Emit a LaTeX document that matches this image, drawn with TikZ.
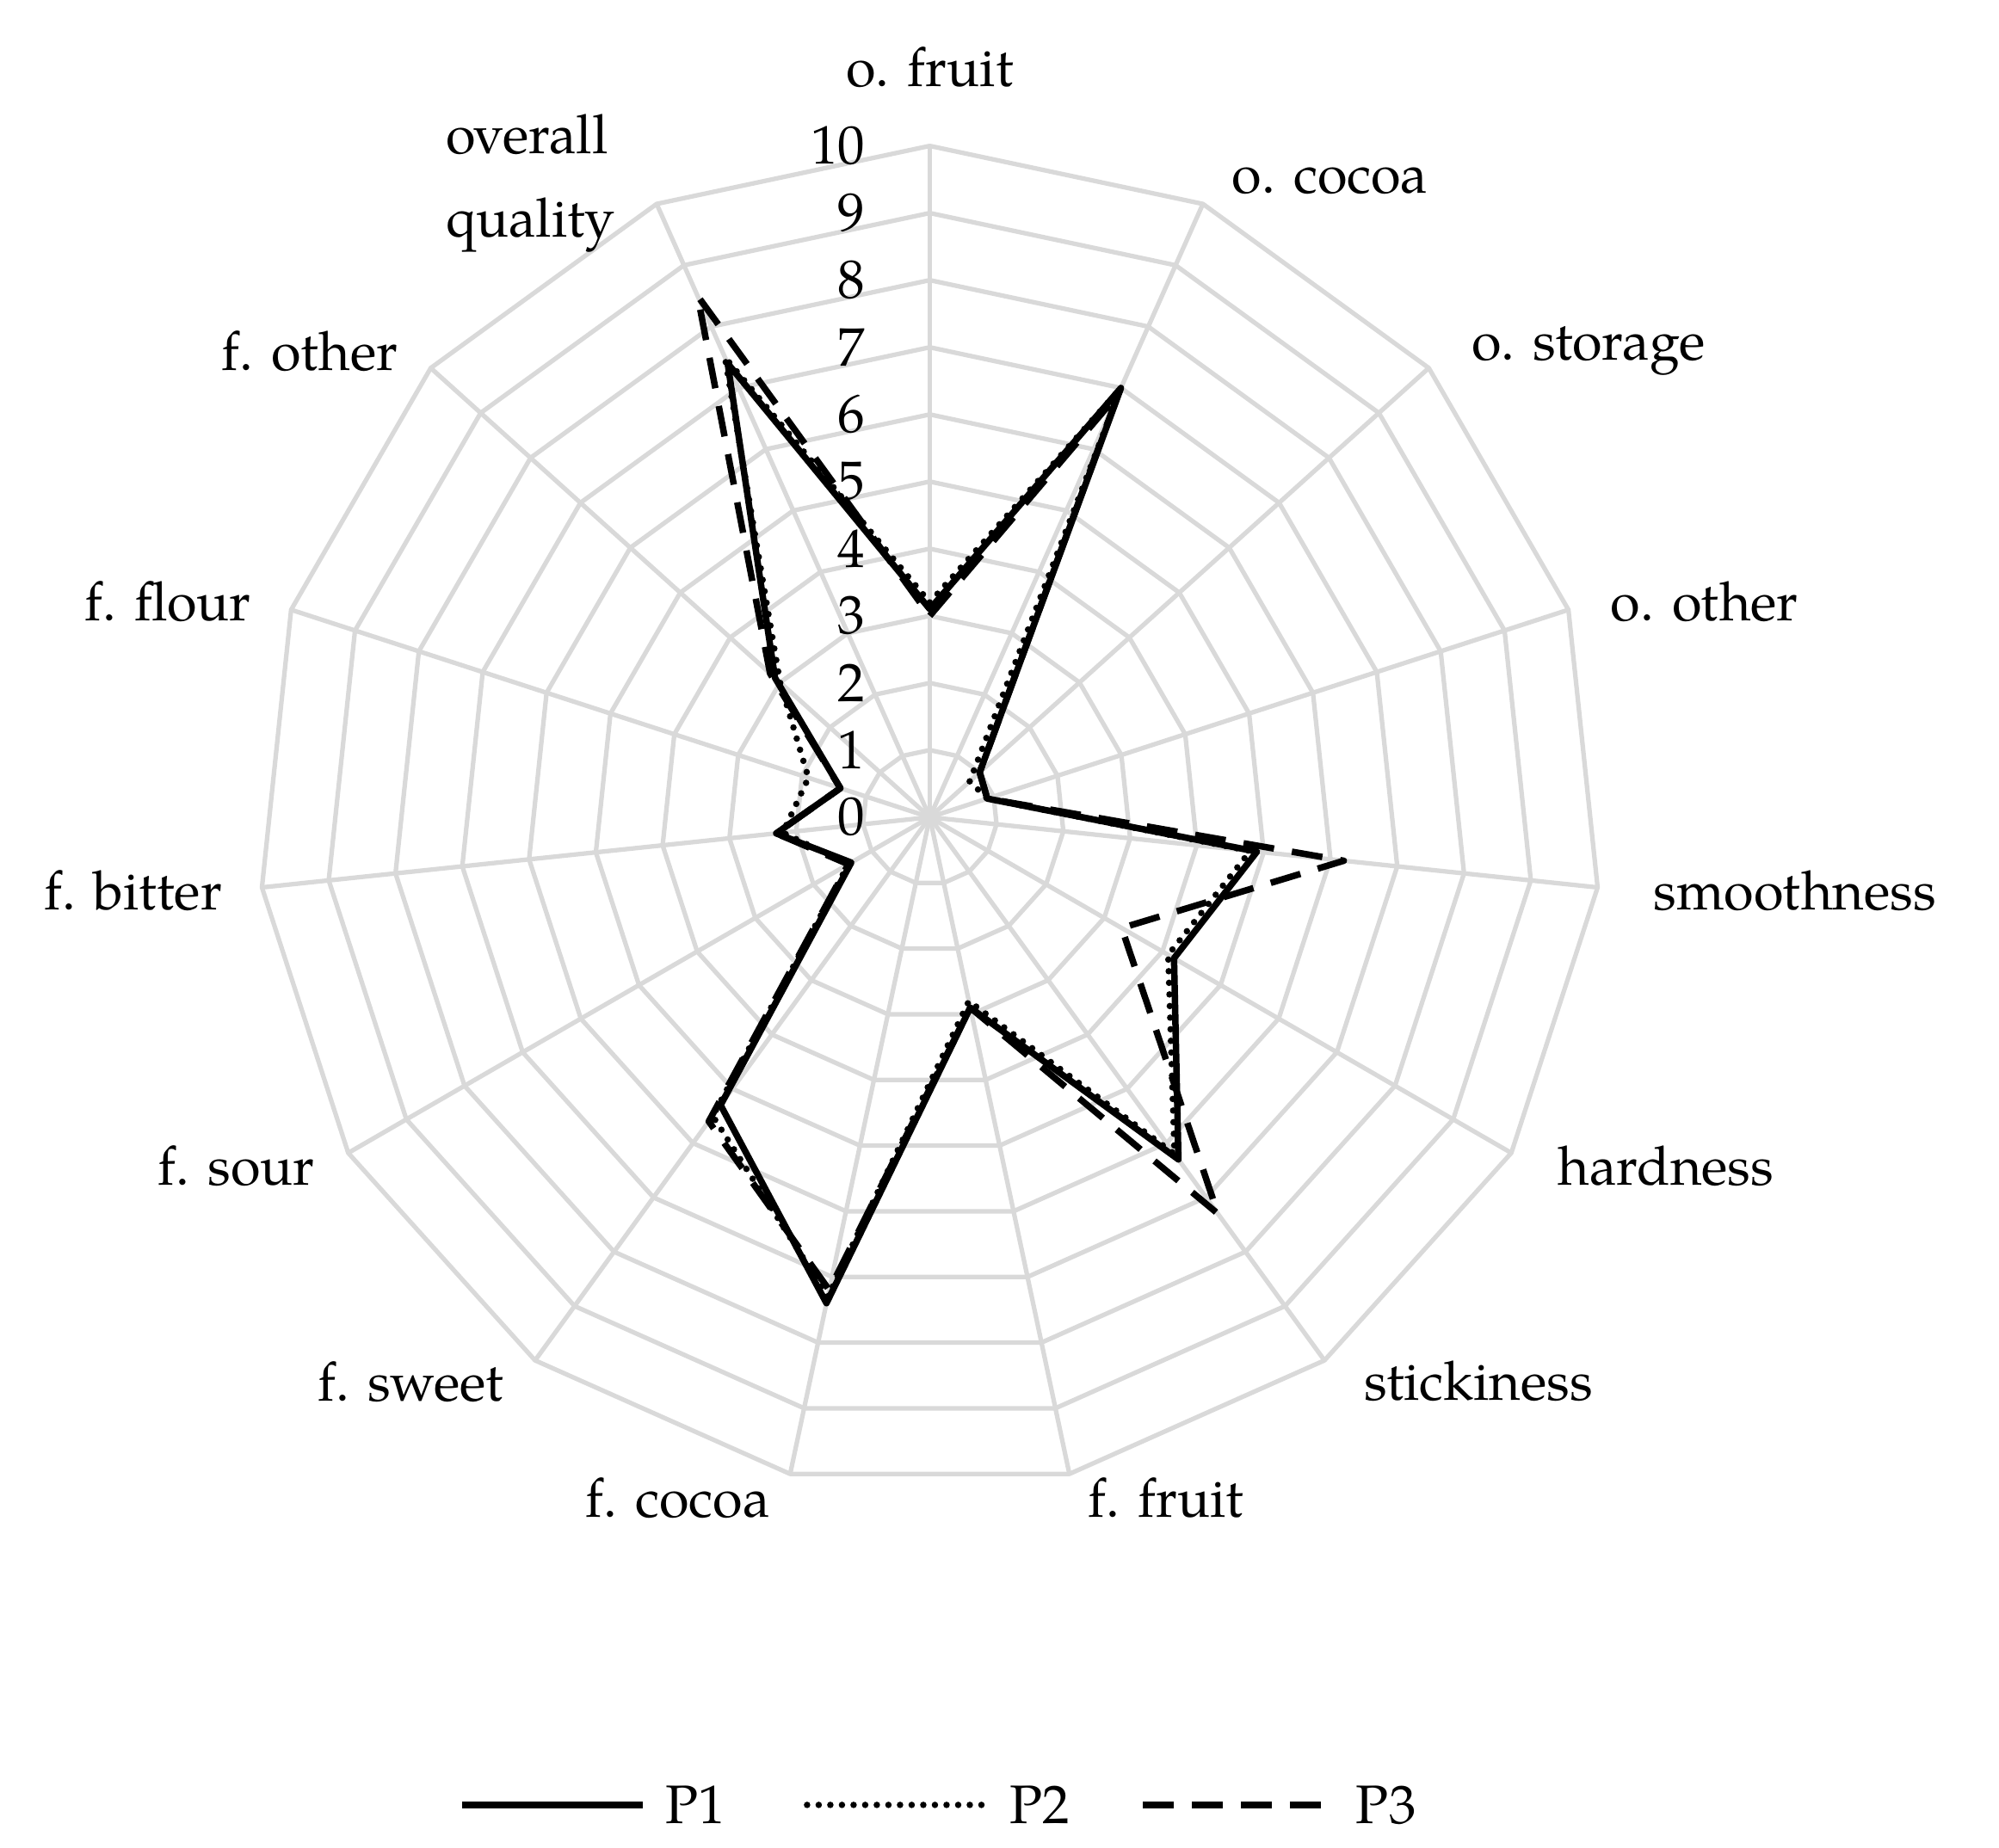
\documentclass[tikz,border=0pt]{standalone}
\usepackage{fontspec}
\setmainfont{TeX Gyre Pagella}[Extension=.otf,UprightFont=texgyrepagella-regular]
\begin{document}
\begin{tikzpicture}[x=1pt,y=1pt,
  grid/.style={draw=black!15,line width=3.5pt,line join=round},
  ser/.style={line width=5pt,line join=round},
  lab/.style={font=\fontsize{42}{50}\selectfont,inner sep=0pt},
  p1/.style={ser},
  p2/.style={ser,dash pattern=on 0pt off 9pt,line cap=round},
  p3/.style={ser,dash pattern=on 24pt off 14pt}]
\useasboundingbox (0,0) rectangle (1548,-1431);
\coordinate (c) at (720,-633);
\begin{scope}[shift={(c)}]
\foreach \r in {1,...,10}{
  \draw[grid] (90:{\r*52}) \foreach \i in {1,...,14}{ -- ({90-24*\i}:{\r*52})} -- cycle;}
\foreach \i in {0,...,14}{\draw[grid] (0,0) -- ({90-24*\i}:520);}
\foreach \k in {0,...,10}{\node[lab,anchor=east] at (-50,{52*\k}) {\k};}
\newcommand\series[2]{\draw[#1] foreach[count=\i from 0] \v in {#2}{ \ifnum\i=0 ({90}:{\v*52}) \else -- ({90-24*\i}:{\v*52}) \fi} -- cycle;}
\series{p1}{3.1,7.0,1.0,0.9,4.9,4.2,6.3,2.9,7.4,5.3,1.35,2.3,1.4,3.1,7.4}
\series{p2}{3.2,7.0,0.8,0.9,4.8,4.1,6.2,2.8,7.3,5.5,1.4,2.2,1.9,3.0,7.5}
\series{p3}{3.0,6.9,1.0,0.9,6.2,3.3,7.3,2.9,7.2,5.6,1.4,2.3,1.4,3.2,8.5}
\end{scope}
\node[lab] at (720,-52) {o. fruit};
\node[lab] at (1030,-140) {o. cocoa};
\node[lab] at (1230,-272) {o. storage};
\node[lab] at (1320,-466) {o. other};
\node[lab] at (1390,-690) {smoothness};
\node[lab] at (1290,-903) {hardness};
\node[lab] at (1145,-1070) {stickiness};
\node[lab] at (903,-1160) {f. fruit};
\node[lab] at (525,-1160) {f. cocoa};
\node[lab] at (318,-1070) {f. sweet};
\node[lab] at (183,-903) {f. sour};
\node[lab] at (103,-690) {f. bitter};
\node[lab] at (130,-466) {f. flour};
\node[lab] at (240,-272) {f. other};
\node[lab,anchor=west] at (345,-104) {overall};
\node[lab,anchor=west] at (345,-174) {quality};
\draw[p1] (358,-1398) -- (498,-1398); \node[lab,anchor=west] at (515,-1398) {P1};
\draw[p2] (625,-1398) -- (765,-1398); \node[lab,anchor=west] at (782,-1398) {P2};
\draw[p3] (885,-1398) -- (1030,-1398); \node[lab,anchor=west] at (1050,-1398) {P3};
\end{tikzpicture}
\end{document}
